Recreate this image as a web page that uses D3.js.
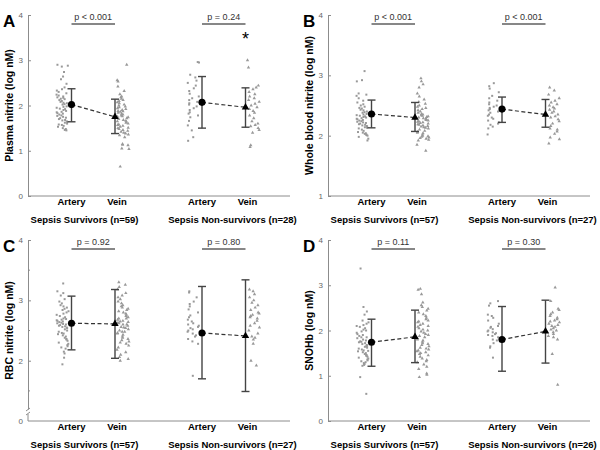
<!DOCTYPE html>
<html>
<head>
<meta charset="utf-8">
<script src="https://cdnjs.cloudflare.com/ajax/libs/d3/7.8.5/d3.min.js"></script>
<style>
body { margin: 0; background: #fff; }
svg { font-family: Arial, "Liberation Sans", sans-serif; }
</style>
</head>
<body>
<svg id="chart" width="600" height="450"></svg>
<script>
// ---- data ----
var categories = ['Artery', 'Vein', 'Artery', 'Vein'];

// A: plasma nitrite
var plasmaSurvArtery = [2.90, 2.88, 2.86, 2.74, 2.64, 2.58, 2.48, 2.40, 2.36, 2.33, 2.30, 2.27, 2.24, 2.22, 2.20, 2.18, 2.17, 2.15, 2.14, 2.12,
    2.10, 2.08, 2.06, 2.05, 2.03, 2.02, 2.00, 1.98, 1.97, 1.95, 1.93, 1.92, 1.90, 1.88, 1.86, 1.85, 1.83, 1.82, 1.80, 1.78,
    1.77, 1.75, 1.73, 1.72, 1.70, 1.68, 1.67, 1.65, 1.63, 1.62, 1.60, 1.58, 1.57, 1.55, 1.53, 1.50, 1.48, 1.46, 1.45];
var plasmaSurvVein = [2.90, 2.56, 2.53, 2.42, 2.32, 2.25, 2.20, 2.18, 2.15, 2.12, 2.10, 2.07, 2.05, 2.02, 2.00, 1.98, 1.96, 1.94, 1.92, 1.90,
    1.88, 1.86, 1.84, 1.82, 1.80, 1.78, 1.76, 1.74, 1.72, 1.70, 1.68, 1.66, 1.64, 1.62, 1.60, 1.58, 1.57, 1.55, 1.53, 1.51,
    1.50, 1.48, 1.46, 1.44, 1.42, 1.40, 1.38, 1.36, 1.34, 1.30, 1.75, 1.65, 1.87, 1.15, 1.13, 1.12, 1.05, 1.04, 0.65];
var plasmaNonArtery = [2.96, 2.95, 2.68, 2.62, 2.55, 2.50, 2.44, 2.38, 2.32, 2.26, 2.20, 2.16, 2.12, 2.08, 2.05, 2.02, 1.98, 1.94, 1.90, 1.85,
    1.82, 1.78, 1.74, 1.66, 1.56, 1.45, 1.30, 1.22];
var plasmaNonVein = [3.00, 2.84, 2.44, 2.40, 2.36, 2.30, 2.25, 2.20, 2.16, 2.12, 2.08, 2.04, 2.00, 1.96, 1.92, 1.88, 1.84, 1.78, 1.72, 1.65,
    1.60, 1.57, 1.54, 1.50, 1.46, 1.40, 1.12, 1.08];
var plasmaMeans = [2.02, 1.75, 2.07, 1.96];
var plasmaLow = [1.64, 1.38, 1.50, 1.52];
var plasmaHigh = [2.37, 2.14, 2.64, 2.39];

// B: whole blood nitrite
var wholeSurvArtery = [3.07, 2.92, 2.90, 2.70, 2.68, 2.66, 2.62, 2.58, 2.55, 2.52, 2.50, 2.48, 2.46, 2.45, 2.43, 2.42, 2.40, 2.39, 2.38, 2.37,
    2.36, 2.35, 2.34, 2.33, 2.32, 2.31, 2.30, 2.29, 2.28, 2.27, 2.26, 2.25, 2.24, 2.23, 2.22, 2.21, 2.20, 2.19, 2.18, 2.17,
    2.16, 2.15, 2.14, 2.13, 2.12, 2.10, 2.08, 2.06, 2.05, 2.04, 2.03, 2.02, 2.01, 2.00, 1.98, 1.95, 1.92];
var wholeSurvVein = [2.95, 2.90, 2.85, 2.80, 2.70, 2.65, 2.60, 2.56, 2.53, 2.50, 2.48, 2.46, 2.44, 2.42, 2.40, 2.38, 2.36, 2.35, 2.34, 2.33,
    2.32, 2.31, 2.30, 2.29, 2.28, 2.27, 2.26, 2.25, 2.24, 2.23, 2.22, 2.21, 2.20, 2.19, 2.18, 2.17, 2.16, 2.15, 2.14, 2.13,
    2.12, 2.10, 2.08, 2.06, 2.05, 2.04, 2.02, 2.00, 1.99, 1.98, 1.97, 1.96, 1.95, 1.93, 1.92, 1.85, 1.75];
var wholeNonArtery = [2.87, 2.82, 2.78, 2.72, 2.66, 2.62, 2.58, 2.55, 2.52, 2.50, 2.48, 2.46, 2.44, 2.42, 2.40, 2.38, 2.35, 2.33, 2.30, 2.28,
    2.25, 2.22, 2.20, 2.18, 2.15, 2.12, 2.02];
var wholeNonVein = [2.80, 2.75, 2.68, 2.62, 2.58, 2.55, 2.52, 2.50, 2.47, 2.45, 2.43, 2.40, 2.38, 2.35, 2.32, 2.30, 2.27, 2.24, 2.20, 2.16,
    2.12, 2.10, 2.07, 2.03, 1.97, 1.94, 1.87];
var wholeMeans = [2.36, 2.30, 2.44, 2.35];
var wholeLow = [2.13, 2.07, 2.22, 2.14];
var wholeHigh = [2.59, 2.55, 2.64, 2.60];

// C: RBC nitrite
var rbcSurvArtery = [3.28, 3.15, 3.12, 3.08, 3.02, 2.98, 2.95, 2.92, 2.90, 2.88, 2.86, 2.84, 2.82, 2.80, 2.78, 2.76, 2.74, 2.72, 2.70, 2.69,
    2.68, 2.67, 2.66, 2.65, 2.64, 2.63, 2.62, 2.61, 2.60, 2.59, 2.58, 2.57, 2.56, 2.55, 2.54, 2.52, 2.50, 2.48, 2.46, 2.45,
    2.44, 2.42, 2.40, 2.38, 2.36, 2.35, 2.33, 2.30, 2.28, 2.26, 2.24, 2.22, 2.20, 2.15, 2.12, 2.05, 1.94];
var rbcSurvVein = [3.30, 3.26, 3.22, 3.18, 3.12, 3.08, 3.05, 3.02, 2.98, 2.95, 2.92, 2.90, 2.88, 2.86, 2.84, 2.82, 2.80, 2.78, 2.76, 2.74,
    2.72, 2.70, 2.68, 2.66, 2.65, 2.64, 2.63, 2.62, 2.60, 2.58, 2.56, 2.55, 2.54, 2.52, 2.50, 2.48, 2.46, 2.45, 2.43, 2.40,
    2.38, 2.36, 2.34, 2.32, 2.30, 2.28, 2.25, 2.22, 2.18, 2.14, 2.10, 2.06, 2.03, 2.00, 2.48, 2.60, 2.70];
var rbcNonArtery = [3.15, 3.13, 3.05, 2.98, 2.94, 2.90, 2.85, 2.80, 2.75, 2.72, 2.68, 2.65, 2.62, 2.60, 2.58, 2.56, 2.54, 2.52, 2.50, 2.48,
    2.45, 2.42, 2.40, 2.36, 2.32, 2.28, 1.75];
var rbcNonVein = [3.18, 3.15, 3.10, 3.05, 3.00, 2.96, 2.92, 2.88, 2.84, 2.80, 2.78, 2.76, 2.74, 2.72, 2.70, 2.66, 2.62, 2.58, 2.55, 2.50,
    2.45, 2.40, 2.38, 2.35, 2.00, 1.92, 2.28];
var rbcMeans = [2.62, 2.61, 2.46, 2.41];
var rbcLow = [2.18, 2.04, 1.70, 1.49];
var rbcHigh = [3.07, 3.18, 3.23, 3.34];

// D: SNOHb
var snoSurvArtery = [3.37, 2.52, 2.42, 2.35, 2.22, 2.18, 2.15, 2.12, 2.10, 2.08, 2.05, 2.02, 2.00, 1.98, 1.95, 1.92, 1.90, 1.88, 1.85, 1.83,
    1.80, 1.78, 1.76, 1.74, 1.72, 1.70, 1.68, 1.66, 1.64, 1.62, 1.60, 1.58, 1.56, 1.54, 1.52, 1.50, 1.48, 1.46, 1.44, 1.42,
    1.40, 1.38, 1.36, 1.34, 1.32, 1.30, 1.28, 1.26, 1.24, 1.22, 1.45, 1.55, 1.65, 1.75, 1.85, 0.97, 0.60];
var snoSurvVein = [2.92, 2.90, 2.80, 2.62, 2.56, 2.52, 2.48, 2.44, 2.40, 2.36, 2.32, 2.28, 2.25, 2.22, 2.20, 2.18, 2.15, 2.12, 2.10, 2.08,
    2.05, 2.02, 2.00, 1.98, 1.95, 1.92, 1.90, 1.88, 1.85, 1.82, 1.80, 1.78, 1.75, 1.72, 1.70, 1.68, 1.65, 1.62, 1.60, 1.58,
    1.56, 1.54, 1.52, 1.50, 1.48, 1.45, 1.42, 1.38, 1.35, 1.32, 1.30, 1.25, 1.20, 1.15, 1.05, 1.02, 0.97];
var snoNonArtery = [2.65, 2.60, 2.55, 2.35, 2.32, 2.28, 2.22, 2.15, 2.10, 2.06, 2.03, 2.00, 1.98, 1.96, 1.94, 1.92, 1.90, 1.88, 1.85, 1.80,
    1.78, 1.72, 1.65, 1.62, 1.40, 2.08];
var snoNonVein = [2.95, 2.65, 2.48, 2.45, 2.40, 2.36, 2.32, 2.28, 2.25, 2.22, 2.20, 2.18, 2.15, 2.12, 2.10, 2.08, 2.05, 2.02, 2.00, 1.96,
    1.92, 1.88, 1.85, 1.80, 1.48, 0.80];
var snoMeans = [1.74, 1.86, 1.80, 1.98];
var snoLow = [1.21, 1.29, 1.10, 1.28];
var snoHigh = [2.25, 2.45, 2.53, 2.67];

var panelLetters = ['A', 'B', 'C', 'D'];
var yTitles = ['Plasma nitrite (log nM)', 'Whole blood nitrite (log nM)', 'RBC nitrite (log nM)', 'SNOHb (log nM)'];
var yTicks = [[0, 1, 2, 3, 4], [1, 2, 3, 4], [2, 3, 4], [0, 1, 2, 3, 4]];
var groupLabels = [
    ['Sepsis Survivors (n=59)', 'Sepsis Non-survivors (n=28)'],
    ['Sepsis Survivors (n=57)', 'Sepsis Non-survivors (n=27)'],
    ['Sepsis Survivors (n=57)', 'Sepsis Non-survivors (n=27)'],
    ['Sepsis Survivors (n=57)', 'Sepsis Non-survivors (n=26)']
];
var pLabels = [
    ['p < 0.001', 'p = 0.24'],
    ['p < 0.001', 'p < 0.001'],
    ['p = 0.92', 'p = 0.80'],
    ['p = 0.11', 'p = 0.30']
];

// ---- layout ----
var panels = [
    {values: [plasmaSurvArtery, plasmaSurvVein, plasmaNonArtery, plasmaNonVein], means: plasmaMeans, low: plasmaLow, high: plasmaHigh, domain: [0, 4], star: 3},
    {values: [wholeSurvArtery, wholeSurvVein, wholeNonArtery, wholeNonVein], means: wholeMeans, low: wholeLow, high: wholeHigh, domain: [1, 4]},
    {values: [rbcSurvArtery, rbcSurvVein, rbcNonArtery, rbcNonVein], means: rbcMeans, low: rbcLow, high: rbcHigh, domain: [1.2, 4], broken: true},
    {values: [snoSurvArtery, snoSurvVein, snoNonArtery, snoNonVein], means: snoMeans, low: snoLow, high: snoHigh, domain: [0, 4]}
];
var origins = [[0, 0], [300, 0], [0, 225], [300, 225]];
var axisX = 28, plotTop = 15, plotBottom = 196, axisEnd = 290;
var slots = [0, 1, 3, 4];
var x = d3.scaleLinear().domain([-1, 5]).range([axisX, axisX + 261]);
var axisColor = '#8c8c8c';

// horizontal scatter of the dots beside each mean (index hash, fixed)
var spread = function(i) {
    var s = Math.sin((i + 1) * 12.9898) * 43758.5453;
    return s - Math.floor(s);
};

var svg = d3.select('#chart');
svg.append('rect').attr('width', 600).attr('height', 450).attr('fill', '#fff');

panels.forEach(function(p, pi) {
    var g = svg.append('g')
        .attr('transform', 'translate(' + origins[pi][0] + ',' + origins[pi][1] + ')');

    var y = d3.scaleLinear()
        .domain(p.domain)
        .range([p.broken ? 184 : plotBottom, plotTop]);

    // y axis
    var yAxis = g.append('g')
        .attr('transform', 'translate(' + axisX + ',0)')
        .call(d3.axisLeft(y).tickValues(yTicks[pi]).tickSizeInner(-3).tickSizeOuter(0).tickPadding(5).tickFormat(d3.format('d')));
    yAxis.select('.domain').attr('stroke', axisColor);
    yAxis.selectAll('.tick line').attr('stroke', axisColor);
    yAxis.selectAll('.tick text').attr('fill', '#666').style('font-size', '8px');

    // half-unit minor ticks
    var minor = d3.range(Math.ceil(p.domain[0] * 2) / 2, p.domain[1], 1)
        .filter(function(v) { return v % 1 !== 0; });
    g.selectAll('.minor').data(minor).enter().append('line')
        .attr('x1', axisX).attr('x2', axisX + 2)
        .attr('y1', function(d) { return y(d); })
        .attr('y2', function(d) { return y(d); })
        .attr('stroke', axisColor);

    if (p.broken) {
        g.append('line').attr('x1', axisX).attr('x2', axisX)
            .attr('y1', 189).attr('y2', plotBottom).attr('stroke', axisColor);
        g.selectAll('.brk').data([184, 188]).enter().append('line')
            .attr('x1', axisX - 2).attr('x2', axisX + 2)
            .attr('y1', function(d) { return d + 2; })
            .attr('y2', function(d) { return d - 1; })
            .attr('stroke', axisColor);
        g.append('text').attr('x', axisX - 5).attr('y', plotBottom + 3)
            .attr('text-anchor', 'end').attr('fill', '#666').style('font-size', '8px').text('0');
    }

    // x axis line
    g.append('line')
        .attr('x1', axisX).attr('x2', axisEnd)
        .attr('y1', plotBottom).attr('y2', plotBottom)
        .attr('stroke', axisColor);

    // panel letter and y title
    g.append('text').attr('x', 3).attr('y', 27)
        .style('font-size', '17px').style('font-weight', 'bold').text(panelLetters[pi]);
    g.append('text')
        .attr('transform', 'translate(13,' + ((plotTop + plotBottom) / 2) + ') rotate(-90)')
        .attr('text-anchor', 'middle')
        .style('font-size', '10.5px').style('font-weight', 'bold')
        .text(yTitles[pi]);

    // category + group labels
    g.selectAll('.cat').data(categories).enter().append('text')
        .attr('x', function(d, i) { return x(slots[i]) + (i % 2 ? 2 : 0); })
        .attr('y', 205)
        .attr('text-anchor', 'middle')
        .style('font-size', '9.5px').style('font-weight', 'bold')
        .text(function(d) { return d; });
    g.selectAll('.grp').data(groupLabels[pi]).enter().append('text')
        .attr('x', function(d, i) { return x(i ? 3.7 : 0.3); })
        .attr('y', 223)
        .attr('text-anchor', 'middle')
        .style('font-size', '9.5px').style('font-weight', 'bold')
        .text(function(d) { return d; });

    // scattered raw values
    p.values.forEach(function(vals, k) {
        var isVein = k % 2 === 1;
        var sym = d3.symbol().type(isVein ? d3.symbolTriangle : d3.symbolSquare).size(isVein ? 5 : 4);
        g.selectAll('.pt' + k).data(vals).enter().append('path')
            .attr('d', sym)
            .attr('transform', function(d, i) {
                var j = spread(i + k * 61 + pi * 7);
                var xs = isVein ? x(slots[k]) + 2 + 12 * j : x(slots[k]) - 3 - 12 * j;
                return 'translate(' + xs + ',' + y(d) + ')';
            })
            .attr('fill', '#999');
    });

    // dashed line between means
    [[0, 1], [2, 3]].forEach(function(pair) {
        g.append('line')
            .attr('x1', x(slots[pair[0]])).attr('y1', y(p.means[pair[0]]))
            .attr('x2', x(slots[pair[1]])).attr('y2', y(p.means[pair[1]]))
            .attr('stroke', '#333').attr('stroke-width', 1.2).attr('stroke-dasharray', '4,2.5');
    });

    // error bars
    var bars = g.selectAll('.err').data(p.means).enter().append('g');
    bars.append('line')
        .attr('x1', function(d, i) { return x(slots[i]); })
        .attr('x2', function(d, i) { return x(slots[i]); })
        .attr('y1', function(d, i) { return y(p.low[i]); })
        .attr('y2', function(d, i) { return y(p.high[i]); })
        .attr('stroke', '#444').attr('stroke-width', 1.4);
    ['low', 'high'].forEach(function(key) {
        bars.append('line')
            .attr('x1', function(d, i) { return x(slots[i]) - 4; })
            .attr('x2', function(d, i) { return x(slots[i]) + 4; })
            .attr('y1', function(d, i) { return y(p[key][i]); })
            .attr('y2', function(d, i) { return y(p[key][i]); })
            .attr('stroke', '#444').attr('stroke-width', 1.4);
    });
    bars.append('path')
        .attr('d', function(d, i) {
            return d3.symbol().type(i % 2 ? d3.symbolTriangle : d3.symbolCircle).size(i % 2 ? 24 : 40)();
        })
        .attr('transform', function(d, i) { return 'translate(' + x(slots[i]) + ',' + y(d) + ')'; })
        .attr('fill', '#000');

    // significance brackets
    [[0, 1], [3, 4]].forEach(function(pair, j) {
        g.append('line')
            .attr('x1', x(pair[0])).attr('x2', x(pair[1]))
            .attr('y1', 24).attr('y2', 24)
            .attr('stroke', '#111').attr('stroke-width', 1.2);
        g.append('text')
            .attr('x', (x(pair[0]) + x(pair[1])) / 2).attr('y', 20)
            .attr('text-anchor', 'middle')
            .attr('fill', '#333')
            .style('font-size', '9px')
            .text(pLabels[pi][j]);
    });

    if (p.star !== undefined) {
        g.append('text')
            .attr('x', x(slots[p.star])).attr('y', 45)
            .attr('text-anchor', 'middle')
            .style('font-size', '18px')
            .text('*');
    }
});
</script>
</body>
</html>
